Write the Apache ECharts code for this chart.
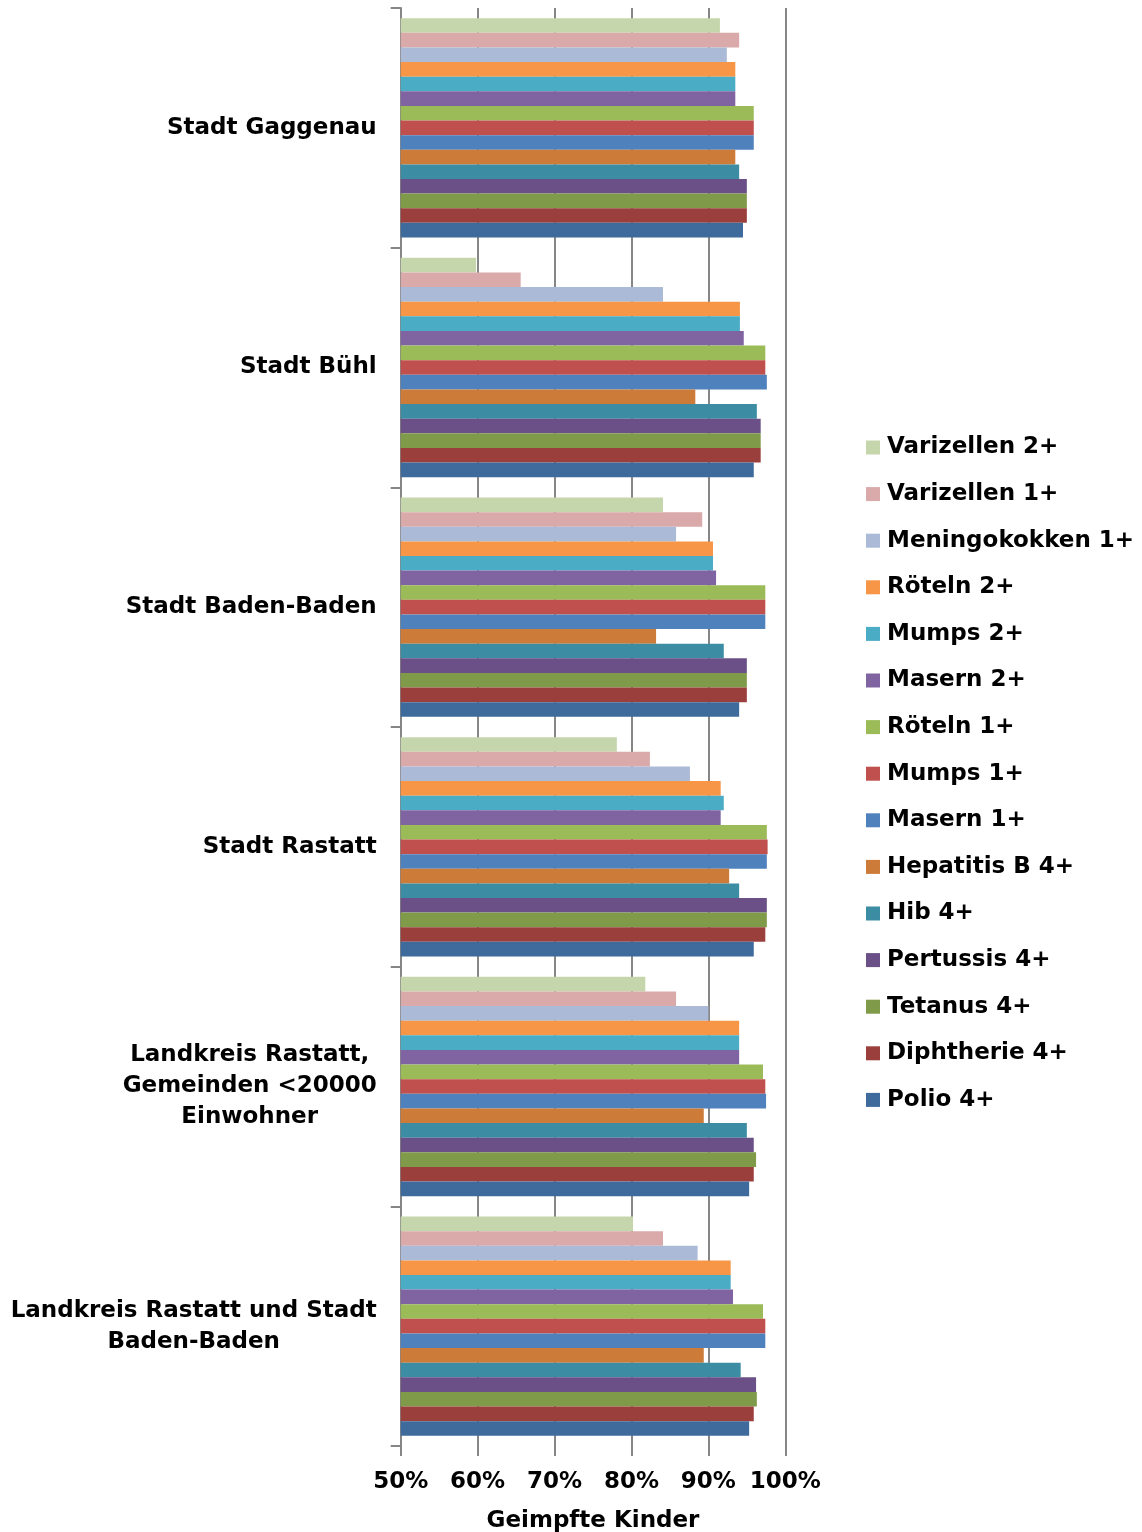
<!DOCTYPE html>
<html>
<head>
<meta charset="utf-8">
<script src="https://cdn.jsdelivr.net/npm/echarts@6/dist/echarts.min.js"></script>
<style>
html,body{margin:0;padding:0;background:#fff;}
#chart{width:1142px;height:1532px;}
</style>
</head>
<body>
<div id="chart"></div>
<script>
// Categories, top to bottom
const categories = [
  'Stadt Gaggenau',
  'Stadt Bühl',
  'Stadt Baden-Baden',
  'Stadt Rastatt',
  'Landkreis Rastatt,\nGemeinden <20000\nEinwohner',
  'Landkreis Rastatt und Stadt\nBaden-Baden'
];
// Series names (legend order, top to bottom)
const seriesNames = [
  'Varizellen 2+', 'Varizellen 1+', 'Meningokokken 1+', 'Röteln 2+', 'Mumps 2+',
  'Masern 2+', 'Röteln 1+', 'Mumps 1+', 'Masern 1+', 'Hepatitis B 4+',
  'Hib 4+', 'Pertussis 4+', 'Tetanus 4+', 'Diphtherie 4+', 'Polio 4+'
];
const seriesColors = [
  '#C6D6AC', '#D9AAA9', '#AABAD7', '#F79646', '#4BACC6',
  '#8064A2', '#9BBB59', '#C0504D', '#4F81BD', '#CC7B38',
  '#3C8CA3', '#6A5087', '#7F9A48', '#9B3F3D', '#3F6A9C'
];
// Values per series (percent), in category order
const varizellen2 = [91.5, 59.8, 84.1, 78.1, 81.8, 80.2];
const varizellen1 = [94.0, 65.6, 89.2, 82.4, 85.8, 84.1];
const meningokokken1 = [92.4, 84.1, 85.8, 87.6, 90.0, 88.6];
const roeteln2 = [93.5, 94.1, 90.6, 91.6, 94.0, 92.9];
const mumps2 = [93.5, 94.1, 90.6, 92.0, 94.0, 92.9];
const masern2 = [93.5, 94.6, 91.0, 91.6, 94.0, 93.2];
const roeteln1 = [95.9, 97.4, 97.4, 97.6, 97.1, 97.1];
const mumps1 = [95.9, 97.4, 97.4, 97.7, 97.4, 97.4];
const masern1 = [95.9, 97.6, 97.4, 97.6, 97.5, 97.4];
const hepatitisB4 = [93.5, 88.3, 83.2, 92.7, 89.4, 89.4];
const hib4 = [94.0, 96.3, 92.0, 94.0, 95.0, 94.2];
const pertussis4 = [95.0, 96.8, 95.0, 97.6, 95.9, 96.2];
const tetanus4 = [95.0, 96.8, 95.0, 97.6, 96.2, 96.3];
const diphtherie4 = [95.0, 96.8, 95.0, 97.4, 95.9, 95.9];
const polio4 = [94.5, 95.9, 94.0, 95.9, 95.3, 95.3];
const seriesValues = [
  varizellen2, varizellen1, meningokokken1, roeteln2, mumps2,
  masern2, roeteln1, mumps1, masern1, hepatitisB4,
  hib4, pertussis4, tetanus4, diphtherie4, polio4
];
const xTicks = { min: 50, max: 100, interval: 10 };
const xAxisTitle = 'Geimpfte Kinder';

const FONT = 'DejaVu Sans';
const FS = 23;
const gray = '#868686';

const chart = echarts.init(document.getElementById('chart'), null, { renderer: 'canvas' });
const option = {
  animation: false,
  backgroundColor: '#fff',
  grid: { left: 400.7, right: 356.7, top: 8, bottom: 86, containLabel: false, outerBoundsMode: 'none' },
  legend: {
    orient: 'vertical',
    left: 866,
    top: 434.5,
    padding: 0,
    itemWidth: 14,
    itemHeight: 14,
    itemGap: 20.6,
    icon: 'rect',
    data: seriesNames,
    textStyle: { fontFamily: FONT, fontWeight: 'bold', fontSize: FS, color: '#000', lineHeight: 26, padding: [0, 0, 0, 2] },
    itemStyle: { borderWidth: 0 }
  },
  xAxis: {
    type: 'value',
    min: xTicks.min, max: xTicks.max, interval: xTicks.interval,
    name: xAxisTitle,
    nameLocation: 'middle',
    nameGap: 64,
    nameTextStyle: { fontFamily: FONT, fontWeight: 'bold', fontSize: FS, color: '#000' },
    axisLine: { show: false },
    axisTick: { show: true, length: 10, lineStyle: { color: gray, width: 2 } },
    axisLabel: {
      formatter: '{value}%', margin: 25,
      fontFamily: FONT, fontWeight: 'bold', fontSize: FS, color: '#000'
    },
    splitLine: { show: true, lineStyle: { color: gray, width: 2 } }
  },
  yAxis: {
    type: 'category',
    data: categories,
    inverse: true,
    axisLine: { show: true, lineStyle: { color: gray, width: 2 } },
    axisTick: { show: true, length: 10, lineStyle: { color: gray, width: 2 } },
    axisLabel: {
      margin: 24,
      align: 'right',
      fontFamily: FONT, fontWeight: 'bold', fontSize: FS, color: '#000',
      lineHeight: 31,
      formatter: function (v) {
        return v.split('\n').map(function (l) { return '{c|' + l + '}'; }).join('\n');
      },
      rich: {
        c: { align: 'center', fontFamily: FONT, fontWeight: 'bold', fontSize: FS, color: '#000', lineHeight: 31 }
      }
    },
    splitLine: { show: false }
  },
  series: seriesNames.map(function (name, i) {
    return {
      name: name,
      type: 'bar',
      data: seriesValues[i],
      barGap: '0%',
      barCategoryGap: '8.5%',
      itemStyle: { color: seriesColors[i] }
    };
  })
};
chart.setOption(option);
</script>
</body>
</html>
